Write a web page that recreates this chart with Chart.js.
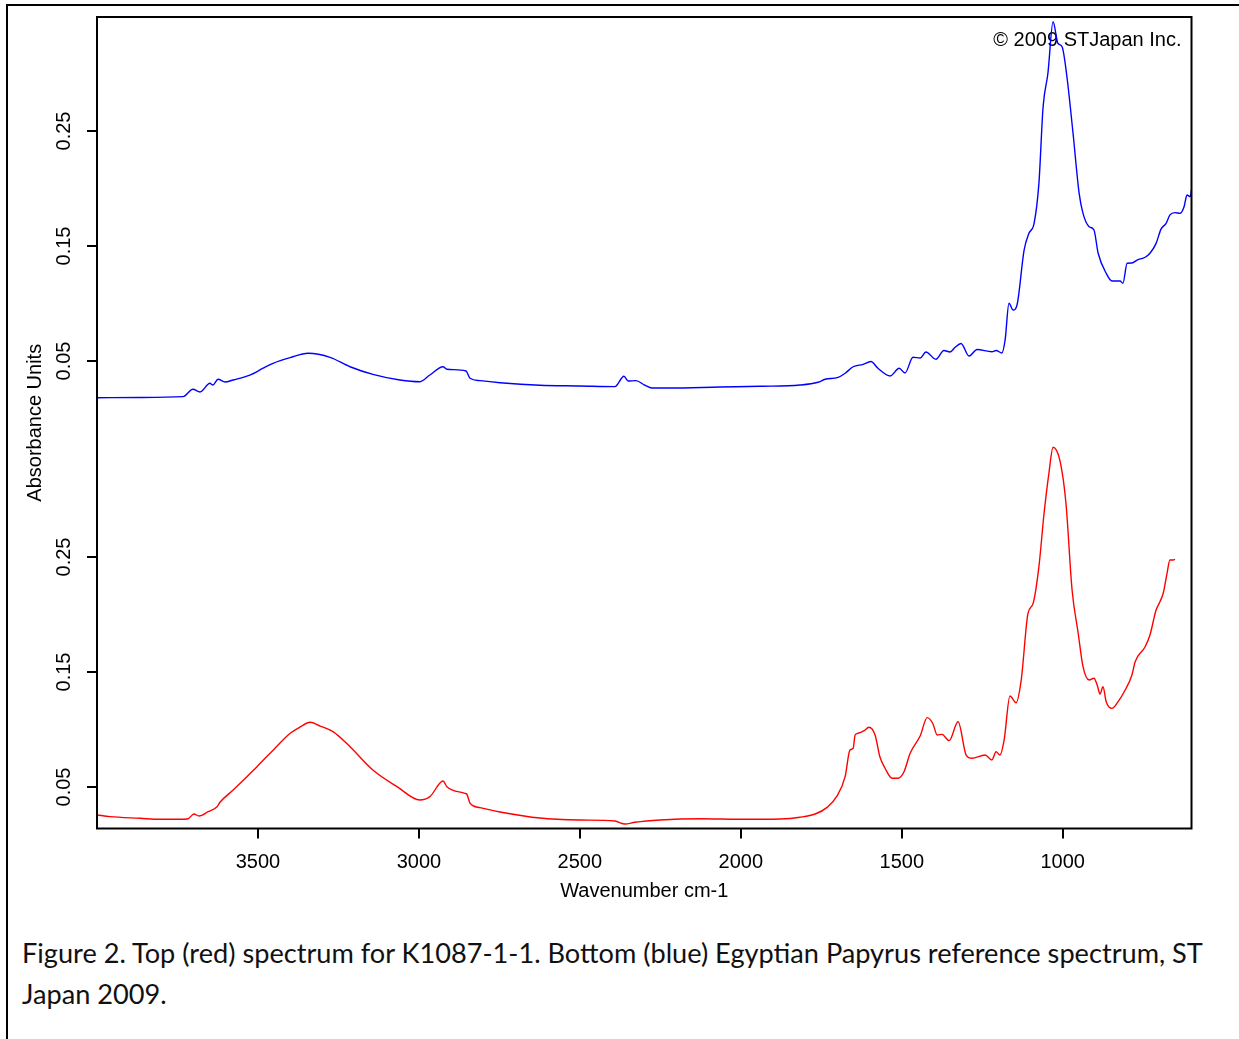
<!DOCTYPE html>
<html>
<head>
<meta charset="utf-8">
<script src="https://cdn.jsdelivr.net/npm/chart.js@4.4.1/dist/chart.umd.min.js"></script>
<style>
  html, body { margin: 0; padding: 0; background: #ffffff; width: 1239px; height: 1039px; overflow: hidden; }
  #frame { position: absolute; left: 6px; top: 4px; width: 1260px; height: 1060px; border-top: 2px solid #000; border-left: 2px solid #000; }
  #wrap { position: absolute; left: 0; top: 0; width: 1239px; height: 920px; }
  #caption { position: absolute; left: 22px; top: 932px; font-family: Lato, "Open Sans", sans-serif; color: #111; line-height: 41px; white-space: nowrap; }
</style>
</head>
<body>
<div id="frame"></div>
<div id="wrap"><canvas id="c" width="1239" height="920"></canvas></div>
<div id="caption"><span id="cap1">Figure 2. Top (red) spectrum for K1087-1-1. Bottom (blue) Egyptian Papyrus reference spectrum, ST</span><br><span id="cap2">Japan 2009.</span></div>
<script>
// ---- data (wavenumber cm-1 / absorbance units) ----
const blueWavenumbers = [4000,3866,3733,3702,3680,3649,3640,3624,3602,3577,3525,3484,3453,3400,3344,3276,3214,3143,3059,2997,2966,2925,2913,2854,2841,2810,2748,2624,2500,2391,2363,2350,2326,2298,2276,2220,2065,1940,1816,1760,1738,1698,1676,1651,1620,1596,1574,1536,1508,1490,1465,1443,1425,1394,1369,1350,1335,1316,1291,1266,1220,1207,1189,1179,1167,1154,1142,1120,1105,1089,1074,1061,1046,1030,1015,1002,987,968,949,937,918,903,890,865,847,822,813,800,785,769,744,729,710,695,679,667,651,636,623,614,604,600];
const blueAbsorbance = [0.0181,0.0183,0.0190,0.0254,0.0230,0.0306,0.0291,0.0341,0.0317,0.0335,0.0378,0.0437,0.0480,0.0529,0.0567,0.0532,0.0450,0.0384,0.0335,0.0320,0.0378,0.0450,0.0428,0.0413,0.0350,0.0329,0.0311,0.0289,0.0283,0.0277,0.0367,0.0326,0.0329,0.0289,0.0265,0.0265,0.0274,0.0280,0.0291,0.0315,0.0341,0.0357,0.0393,0.0450,0.0471,0.0496,0.0437,0.0370,0.0437,0.0396,0.0532,0.0526,0.0578,0.0515,0.0591,0.0578,0.0617,0.0652,0.0543,0.0600,0.0581,0.0591,0.0570,0.0683,0.1002,0.0943,0.0987,0.1465,0.1610,0.1697,0.2045,0.2711,0.3002,0.3450,0.3263,0.3233,0.2972,0.2480,0.1958,0.1784,0.1668,0.1639,0.1437,0.1263,0.1196,0.1196,0.1176,0.1350,0.1352,0.1378,0.1402,0.1437,0.1523,0.1645,0.1697,0.1770,0.1790,0.1784,0.1842,0.1943,0.1929,0.1987];

const redWavenumbers = [4000,3960,3866,3804,3742,3717,3699,3683,3655,3627,3618,3577,3503,3447,3400,3369,3338,3307,3267,3214,3143,3068,2997,2966,2925,2913,2857,2851,2841,2810,2748,2624,2500,2391,2360,2329,2251,2127,2002,1878,1816,1769,1732,1701,1676,1661,1651,1645,1636,1617,1602,1583,1568,1552,1530,1512,1493,1474,1443,1421,1403,1390,1375,1353,1325,1300,1282,1241,1220,1207,1195,1182,1164,1145,1129,1108,1092,1074,1058,1043,1030,1008,990,971,952,937,918,903,893,884,875,865,847,828,806,785,775,744,729,710,698,688,676,667,657,651];
const redAbsorbance = [0.0257,0.0242,0.0228,0.0219,0.0219,0.0224,0.0265,0.0248,0.0285,0.0329,0.0367,0.0474,0.0677,0.0837,0.0967,0.1022,0.1063,0.1030,0.0981,0.0850,0.0648,0.0503,0.0387,0.0416,0.0552,0.0503,0.0445,0.0437,0.0358,0.0320,0.0283,0.0230,0.0213,0.0204,0.0178,0.0193,0.0213,0.0224,0.0219,0.0222,0.0237,0.0265,0.0323,0.0422,0.0590,0.0822,0.0837,0.0952,0.0967,0.0990,0.1019,0.0952,0.0763,0.0663,0.0576,0.0576,0.0633,0.0793,0.0943,0.1103,0.1048,0.0952,0.0958,0.0903,0.1068,0.0778,0.0750,0.0778,0.0735,0.0807,0.0778,0.0909,0.1291,0.1233,0.1430,0.2010,0.2097,0.2416,0.2880,0.3228,0.3454,0.3329,0.2967,0.2213,0.1837,0.1546,0.1430,0.1445,0.1387,0.1309,0.1372,0.1242,0.1184,0.1242,0.1343,0.1474,0.1590,0.1720,0.1822,0.2039,0.2111,0.2184,0.2358,0.2474,0.2474,0.2480];

const xTickValues = [1000, 1500, 2000, 2500, 3000, 3500];
const yTickValues = [0.05, 0.15, 0.25];
const xTitle = 'Wavenumber cm-1';
const yTitle = 'Absorbance Units';
const copyrightText = '\u00A9 2009 STJapan Inc.';

// ---- chart ----
const FONT = "'Liberation Sans', Arial, sans-serif";
const toPoints = (xs, ys) => xs.map((x, i) => ({ x: x, y: ys[i] }));

const frameAndText = {
  id: 'frameAndText',
  beforeDatasetsDraw(chart) {
    const ctx = chart.ctx, a = chart.chartArea;
    ctx.save();
    ctx.font = '20px ' + FONT;
    ctx.fillStyle = '#000';
    ctx.textAlign = 'right';
    ctx.textBaseline = 'middle';
    ctx.fillText(copyrightText, a.right - 10, a.top + 23);
    ctx.restore();
  },
  afterDatasetsDraw(chart) {
    const ctx = chart.ctx, a = chart.chartArea;
    ctx.save();
    ctx.strokeStyle = '#000';
    ctx.lineWidth = 2;
    ctx.strokeRect(a.left, a.top, a.right - a.left, a.bottom - a.top);
    ctx.restore();
  }
};

const yPanel = (min, max) => ({
  type: 'linear',
  position: 'left',
  stack: 'panels',
  stackWeight: 1,
  weight: 0,
  min: min,
  max: max,
  afterBuildTicks: (s) => { s.ticks = yTickValues.map(v => ({ value: v })); },
  afterFit: (s) => { s.width = 52; },
  border: { display: false },
  grid: { display: true, drawOnChartArea: false, drawTicks: true, tickLength: 10, color: '#000', lineWidth: 2 },
  ticks: {
    minRotation: 90, maxRotation: 90, crossAlign: 'center', padding: 3,
    color: '#000', font: { family: FONT, size: 20 },
    callback: (v) => Number(v).toFixed(2)
  }
});

new Chart(document.getElementById('c'), {
  type: 'line',
  data: {
    datasets: [
      { label: 'Egyptian Papyrus reference', data: toPoints(blueWavenumbers, blueAbsorbance), yAxisID: 'yTop',
        borderColor: '#0000ff', borderWidth: 1.4, pointRadius: 0, fill: false, cubicInterpolationMode: 'monotone' },
      { label: 'K1087-1-1', data: toPoints(redWavenumbers, redAbsorbance), yAxisID: 'yBot',
        borderColor: '#ff0000', borderWidth: 1.4, pointRadius: 0, fill: false, cubicInterpolationMode: 'monotone' }
    ]
  },
  options: {
    responsive: false,
    animation: false,
    devicePixelRatio: 1,
    layout: { padding: { left: 0, top: 17, right: 47.5, bottom: 11.5 } },
    plugins: { legend: { display: false }, tooltip: { enabled: false } },
    events: [],
    scales: {
      x: {
        type: 'linear', reverse: true, min: 600, max: 4000,
        afterBuildTicks: (s) => { s.ticks = xTickValues.map(v => ({ value: v })); },
        afterFit: (s) => { s.height = 80; },
        border: { display: false },
        grid: { display: true, drawOnChartArea: false, drawTicks: true, tickLength: 10, color: '#000', lineWidth: 2 },
        ticks: { color: '#000', padding: 12, maxRotation: 0, font: { family: FONT, size: 20 }, callback: (v) => String(v) },
        title: { display: true, text: xTitle, color: '#000', font: { family: FONT, size: 20 }, padding: { top: 0, bottom: 5 } }
      },
      yBot: yPanel(0.01391, 0.36674),
      yTop: yPanel(-0.0037, 0.34913),
      yTitleAxis: {
        type: 'linear', position: 'left', weight: 10,
        afterFit: (s) => { s.width = 45; },
        border: { display: false },
        grid: { display: false },
        ticks: { display: false },
        title: { display: true, text: yTitle, color: '#000', font: { family: FONT, size: 20 }, padding: { top: 23, bottom: 0 } }
      }
    }
  },
  plugins: [frameAndText]
});

// fit caption line to the reference width
(function () {
  const c = document.createElement('canvas').getContext('2d');
  c.font = '100px Lato';
  const w = c.measureText(document.getElementById('cap1').textContent).width;
  const size = 100 * 1183 / w;
  document.getElementById('caption').style.fontSize = size.toFixed(2) + 'px';
})();
</script>
</body>
</html>
